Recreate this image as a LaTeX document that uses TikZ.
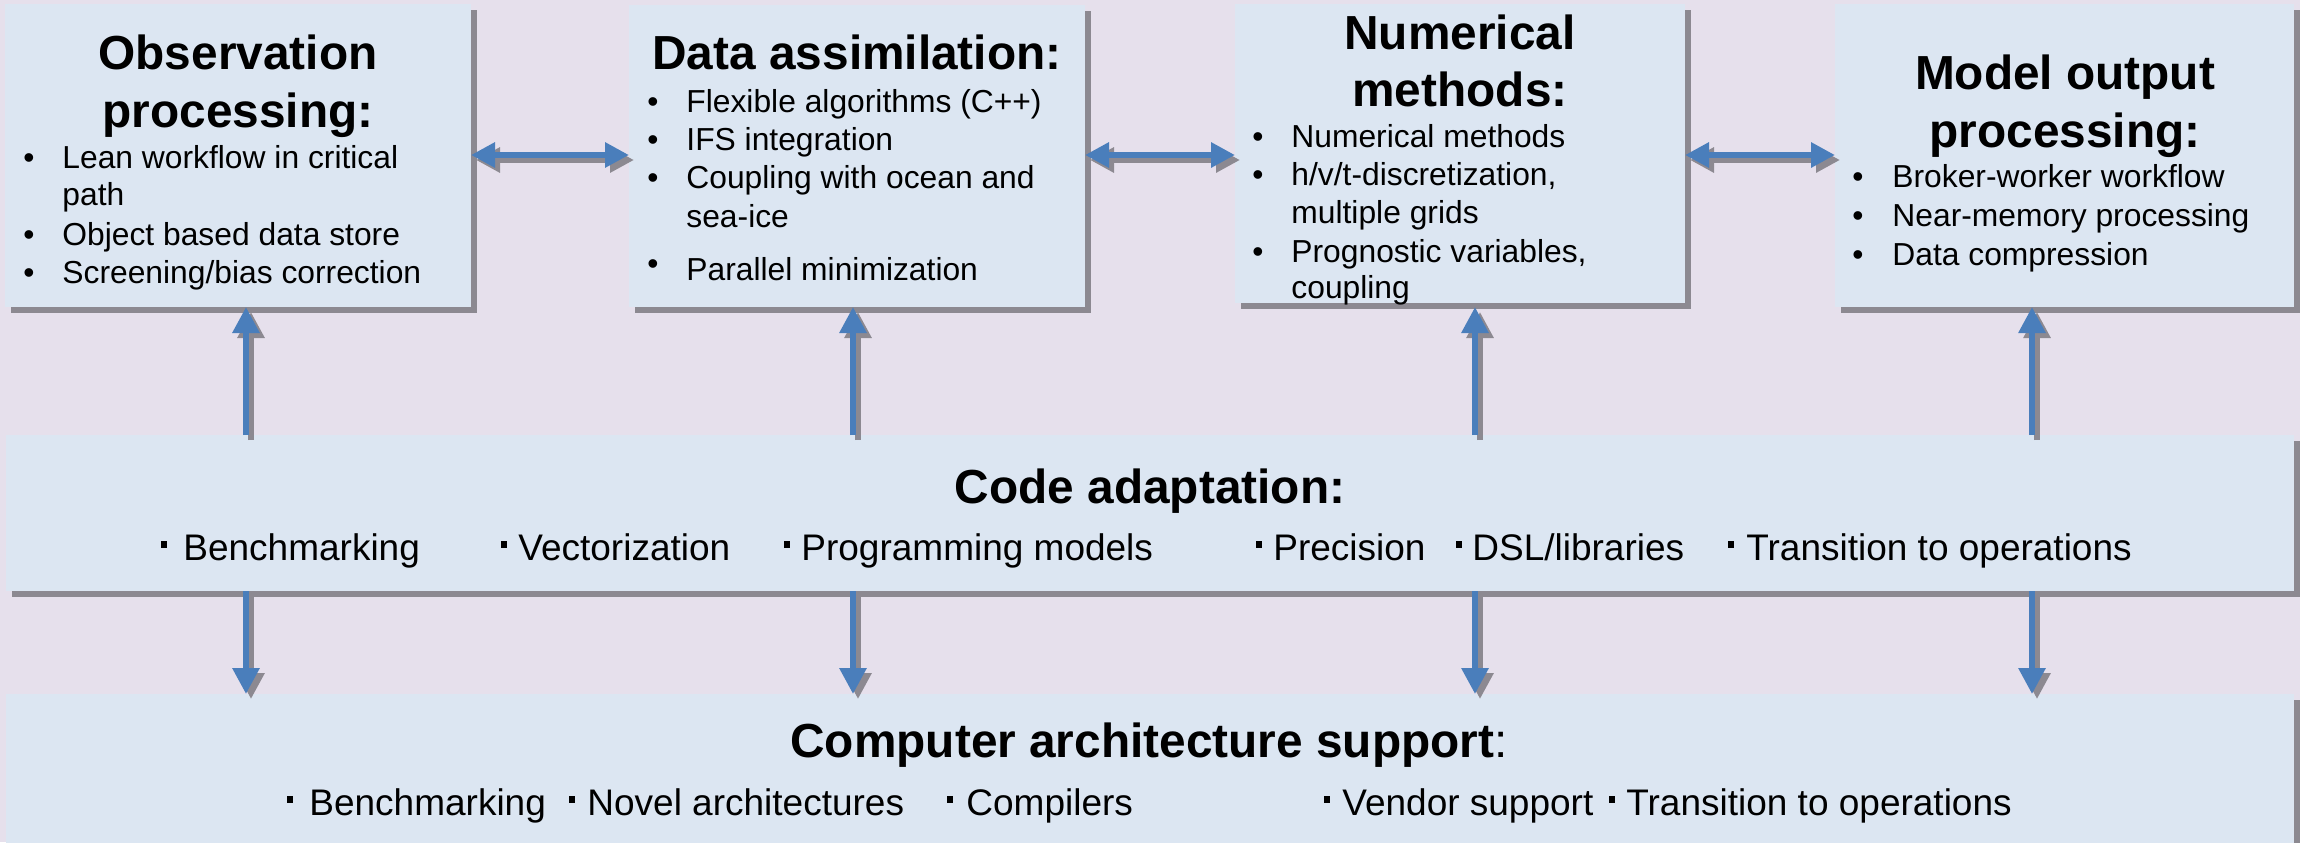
\documentclass[tikz,border=0pt]{standalone}
\usepackage{fontspec}
\setmainfont{Liberation Sans}
\usetikzlibrary{arrows.meta,fit,shadows}
\definecolor{bgc}{HTML}{E6E0EC}
\definecolor{boxc}{HTML}{DCE6F2}
\definecolor{shc}{HTML}{8C8991}
\definecolor{arc}{HTML}{4A7EBB}
\newcommand\sharrow[3]{%
  \draw[#1, shc, transform canvas={xshift=2.5pt,yshift=-2.5pt}] #2 -- #3;
  \draw[#1, arc] #2 -- #3;}
\newcommand\sqb[2]{\fill (#1-3,#2-19) rectangle (#1+3,#2-12);}
\begin{document}
\begin{tikzpicture}[x=0.5pt,y=-0.5pt,
  panel/.style={fill=boxc, draw=none, inner sep=0pt, outer sep=0pt,
    drop shadow={shadow xshift=3pt, shadow yshift=-3pt, fill=shc, opacity=1}},
  ttl/.style={font=\fontsize{23.9}{28}\selectfont\bfseries, inner sep=0pt, anchor=base},
  itm/.style={font=\fontsize{15.9}{19}\selectfont, inner sep=0pt, anchor=base west},
  bu/.style={font=\fontsize{15.9}{19}\selectfont, inner sep=0pt, anchor=base},
  row/.style={font=\fontsize{18.5}{22}\selectfont, inner sep=0pt, anchor=base west},
  con/.style={line width=3pt, -{Triangle[length=13pt,width=13pt]}},
  dcon/.style={line width=3pt, {Triangle[length=12pt,width=12pt]}-{Triangle[length=12pt,width=12pt]}}
]
\useasboundingbox (0,0) rectangle (2300,842);
\fill[bgc] (0,0) rectangle (2300,842);

% panels
\node[panel, fit={(5,4) (471,307)}] (obs) {};
\node[panel, fit={(629,5) (1085,307)}] (da) {};
\node[panel, fit={(1235,4) (1685,303)}] (nm) {};
\node[panel, fit={(1835,4) (2294,307)}] (mo) {};
\node[panel, fit={(6,435) (2294,591)}] (code) {};
\node[panel, fit={(6,694) (2294,870)}] (arch) {};

% observation processing
\node[ttl] (obs-t1) at (238,69) {Observation};
\node[ttl] (obs-t2) at (238,127) {processing:};
\node[bu] (obs-b1) at (29,168) {•};
\node[itm] (obs-i1) at (62,168) {Lean workflow in critical};
\node[itm] (obs-i1b) at (62,205) {path};
\node[bu] (obs-b2) at (29,245) {•};
\node[itm] (obs-i2) at (62,245) {Object based data store};
\node[bu] (obs-b3) at (29,283) {•};
\node[itm] (obs-i3) at (62,283) {Screening/bias correction};

% data assimilation
\node[ttl] (da-t1) at (857,69) {Data assimilation:};
\node[bu] (da-b1) at (653,112) {•};
\node[itm] (da-i1) at (686,112) {Flexible algorithms (C++)};
\node[bu] (da-b2) at (653,150) {•};
\node[itm] (da-i2) at (686,150) {IFS integration};
\node[bu] (da-b3) at (653,188) {•};
\node[itm] (da-i3) at (686,188) {Coupling with ocean and};
\node[itm] (da-i3b) at (686,227) {sea-ice};
\node[bu] (da-b4) at (653,274) {•};
\node[itm] (da-i4) at (686,280) {Parallel minimization};

% numerical methods
\node[ttl] (nm-t1) at (1460,49) {Numerical};
\node[ttl] (nm-t2) at (1460,106) {methods:};
\node[bu] (nm-b1) at (1258,147) {•};
\node[itm] (nm-i1) at (1291,147) {Numerical methods};
\node[bu] (nm-b2) at (1258,185) {•};
\node[itm] (nm-i2) at (1291,185) {h/v/t-discretization,};
\node[itm] (nm-i2b) at (1291,223) {multiple grids};
\node[bu] (nm-b3) at (1258,262) {•};
\node[itm] (nm-i3) at (1291,262) {Prognostic variables,};
\node[itm] (nm-i3b) at (1291,298) {coupling};

% model output processing
\node[ttl] (mo-t1) at (2065,89) {Model output};
\node[ttl] (mo-t2) at (2065,147) {processing:};
\node[bu] (mo-b1) at (1858,187) {•};
\node[itm] (mo-i1) at (1892,187) {Broker-worker workflow};
\node[bu] (mo-b2) at (1858,226) {•};
\node[itm] (mo-i2) at (1892,226) {Near-memory processing};
\node[bu] (mo-b3) at (1858,265) {•};
\node[itm] (mo-i3) at (1892,265) {Data compression};

% code adaptation
\node[ttl] (code-t) at (1150,503) {Code adaptation:};
\sqb{164}{560}\node[row] (code-i1) at (183,560) {Benchmarking};
\sqb{504}{560}\node[row] (code-i2) at (518,560) {Vectorization};
\sqb{787}{560}\node[row] (code-i3) at (801,560) {Programming models};
\sqb{1259}{560}\node[row] (code-i4) at (1273,560) {Precision};
\sqb{1459}{560}\node[row] (code-i5) at (1472,560) {DSL/libraries};
\sqb{1731}{560}\node[row] (code-i6) at (1746,560) {Transition to operations};

% computer architecture support
\node[ttl] (arch-t) at (1149,757) {Computer architecture support{\mdseries :}};
\sqb{290}{815}\node[row] (arch-i1) at (309,815) {Benchmarking};
\sqb{572}{815}\node[row] (arch-i2) at (587,815) {Novel architectures};
\sqb{950}{815}\node[row] (arch-i3) at (966,815) {Compilers};
\sqb{1327}{815}\node[row] (arch-i4) at (1342,815) {Vendor support};
\sqb{1612}{815}\node[row] (arch-i5) at (1626,815) {Transition to operations};

% connector positions
\coordinate (hy) at (0,155);
\coordinate (a1) at (246,0);
\coordinate (a2) at (853,0);
\coordinate (a3) at (1475,0);
\coordinate (a4) at (2032,0);

% horizontal double arrows
\sharrow{dcon}{(obs.east |- hy)}{(da.west |- hy)}
\sharrow{dcon}{(da.east |- hy)}{(nm.west |- hy)}
\sharrow{dcon}{(nm.east |- hy)}{(mo.west |- hy)}

% up arrows
\sharrow{con}{(a1 |- code.north)}{(a1 |- obs.south)}
\sharrow{con}{(a2 |- code.north)}{(a2 |- da.south)}
\sharrow{con}{(a3 |- code.north)}{(a3 |- da.south)}
\sharrow{con}{(a4 |- code.north)}{(a4 |- mo.south)}

% down arrows
\sharrow{con}{(a1 |- code.south)}{(a1 |- arch.north)}
\sharrow{con}{(a2 |- code.south)}{(a2 |- arch.north)}
\sharrow{con}{(a3 |- code.south)}{(a3 |- arch.north)}
\sharrow{con}{(a4 |- code.south)}{(a4 |- arch.north)}
\end{tikzpicture}
\end{document}
